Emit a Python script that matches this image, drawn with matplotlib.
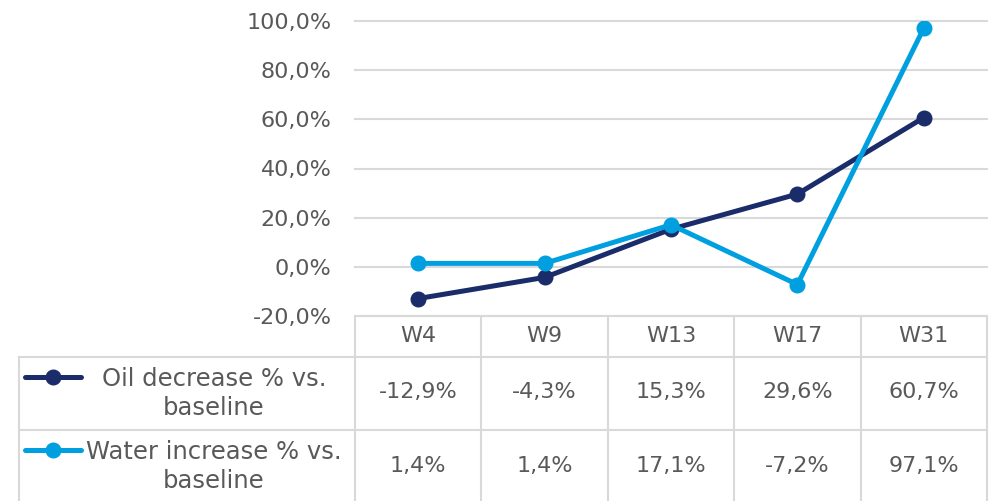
import matplotlib
matplotlib.use("Agg")
import matplotlib.pyplot as plt
from matplotlib.lines import Line2D

categories = ["W4", "W9", "W13", "W17", "W31"]
oil = [-12.9, -4.3, 15.3, 29.6, 60.7]
water = [1.4, 1.4, 17.1, -7.2, 97.1]
series_names = ["Oil decrease % vs.\nbaseline", "Water increase % vs.\nbaseline"]
yticks = [-20, 0, 20, 40, 60, 80, 100]

navy = "#1b2c6b"
light = "#00a0e0"
grey_txt = "#595959"
grid_c = "#d9d9d9"
plt.rcParams["font.family"] = ["DejaVu Sans"]

W, H = 997, 501
fig = plt.figure(figsize=(W / 100, H / 100), dpi=100)

# plot area in pixels: x 355..987, y 21..316
L, R, T, B = 355, 987, 21, 316
ax = fig.add_axes([L / W, 1 - B / H, (R - L) / W, (B - T) / H])

x = list(range(len(categories)))
ax.plot(x, oil, color=navy, lw=3.6, marker="o", ms=10.5, zorder=3)
ax.plot(x, water, color=light, lw=3.6, marker="o", ms=10.5, zorder=4)

ax.set_xlim(-0.5, len(categories) - 0.5)
ax.set_ylim(-20, 100)
ax.set_yticks(yticks)
ax.set_yticklabels([f"{v:.1f}%".replace(".", ",") for v in yticks],
                   fontsize=16, color=grey_txt)
ax.tick_params(axis="y", length=0, pad=17)
ax.set_xticks([])
ax.grid(axis="y", color=grid_c, lw=1.5)
for gl in ax.get_ygridlines():
    gl.set_clip_on(False)
ax.set_axisbelow(True)
for s in ax.spines.values():
    s.set_visible(False)

# data table below the plot (pixel coordinates)
def fx(px):
    return px / W

def fy(py):
    return 1 - py / H

tf = fig.transFigure
col_w = (R - L) / len(categories)
rows_y = [B, 357, 430, H + 2]
lx = 19

def hline(x0, x1, y):
    fig.add_artist(Line2D([fx(x0), fx(x1)], [fy(y), fy(y)], color=grid_c, lw=1.5, transform=tf))

def vline(xp, y0, y1):
    fig.add_artist(Line2D([fx(xp), fx(xp)], [fy(y0), fy(y1)], color=grid_c, lw=1.5, transform=tf))

hline(L, R, B)
hline(lx, R, rows_y[1])
hline(lx, R, rows_y[2])
vline(lx, rows_y[1], rows_y[3])
for i in range(len(categories) + 1):
    vline(L + i * col_w, B, rows_y[3])

for i, c in enumerate(categories):
    cx = L + (i + 0.5) * col_w
    fig.text(fx(cx), fy((rows_y[0] + rows_y[1]) / 2), c, ha="center", va="center",
             fontsize=16, color=grey_txt)
    for r, vals in enumerate([oil, water]):
        yc = (rows_y[r + 1] + rows_y[r + 2]) / 2
        fig.text(fx(cx), fy(yc - 1), f"{vals[i]:.1f}%".replace(".", ","),
                 ha="center", va="center", fontsize=16, color=grey_txt)

for r, (name, col) in enumerate(zip(series_names, [navy, light])):
    ytop = rows_y[r + 1]
    ly = ytop + 20
    fig.add_artist(Line2D([fx(25), fx(81)], [fy(ly), fy(ly)], color=col, lw=3.6,
                          solid_capstyle="round", transform=tf))
    fig.add_artist(Line2D([fx(53)], [fy(ly)], color=col, marker="o", ms=10.5, transform=tf))
    fig.text(fx(214), fy((rows_y[r + 1] + rows_y[r + 2]) / 2), name, ha="center", va="center",
             fontsize=17.5, color=grey_txt, linespacing=1.25)

fig.savefig("out.png", dpi=100)
